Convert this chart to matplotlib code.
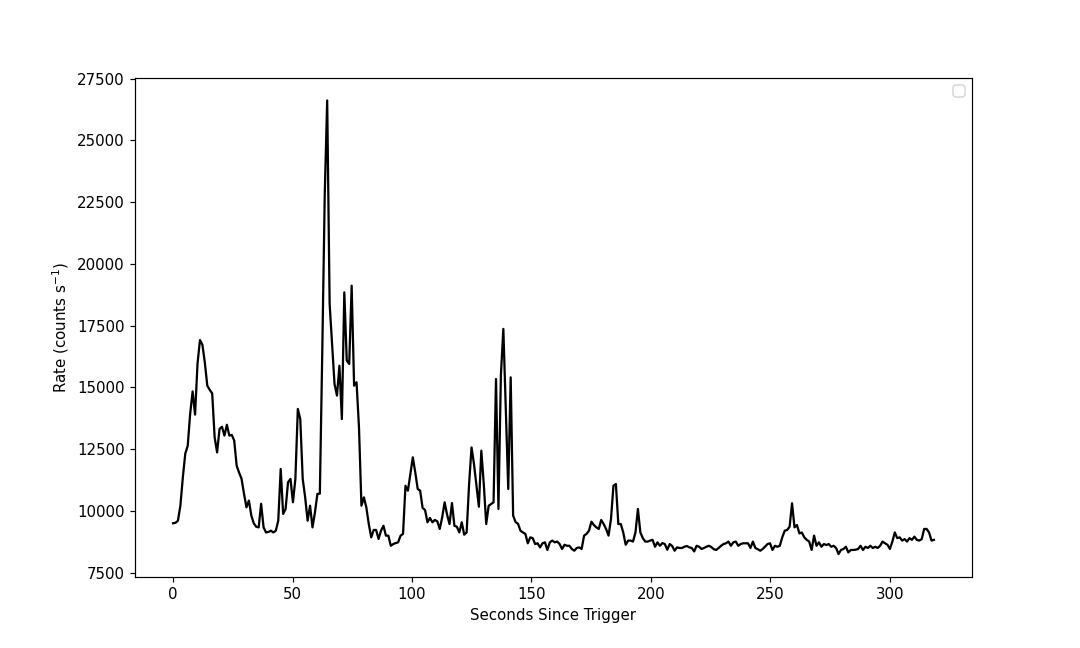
import numpy as np
import matplotlib
matplotlib.use('Agg')
import matplotlib.pyplot as plt

# Light curve, 1.024 s bins.
bin_width = 1.024
rate = [
    9500, 9520, 9606, 10213, 11360, 12320, 12640, 13940, 14840, 13900,
    15960, 16920, 16730, 16000, 15070, 14900, 14760, 12980, 12370, 13320,
    13410, 13050, 13490, 13050, 13080, 12850, 11830, 11550, 11300, 10700,
    10145, 10420, 9810, 9500, 9360, 9335, 10290, 9335, 9130, 9150,
    9200, 9130, 9200, 9606, 11700, 9877, 10080, 11160, 11295, 10350,
    11295, 14130, 13720, 11295, 10550, 9606, 10213, 9335, 9940, 10690,
    10700, 16500, 22800, 26620, 18380, 16760, 15140, 14670, 15880, 13720,
    18850, 16090, 15950, 19120, 15070, 15210, 13380, 10213, 10550, 10145,
    9470, 8930, 9230, 9230, 8865, 9200, 9400, 9000, 9000, 8590,
    8660, 8700, 8730, 9000, 9070, 11020, 10820, 11500, 12170, 11560,
    10890, 10820, 10120, 10040, 9540, 9715, 9540, 9635, 9580, 9270,
    9740, 10350, 9850, 9470, 10320, 9400, 9360, 9130, 9540, 9040,
    9130, 11090, 12570, 11900, 11020, 10170, 12440, 11090, 9470, 10210,
    10280, 10350, 15340, 10080, 15500, 17370, 14200, 10890, 15410, 9810,
    9550, 9480, 9200, 9130, 9070, 8690, 8930, 8900, 8660, 8690,
    8525, 8690, 8730, 8420, 8730, 8800, 8730, 8760, 8660, 8460,
    8630, 8590, 8590, 8460, 8390, 8500, 8525, 8460, 9000, 9070,
    9200, 9565, 9430, 9335, 9270, 9635, 9470, 9270, 9000, 9675,
    11020, 11090, 9470, 9470, 9130, 8630, 8800, 8800, 8760, 9130,
    10080, 9130, 8900, 8760, 8760, 8800, 8830, 8550, 8730, 8590,
    8700, 8660, 8430, 8660, 8580, 8390, 8525, 8500, 8500, 8550,
    8580, 8525, 8500, 8360, 8590, 8550, 8460, 8500, 8550, 8590,
    8540, 8450, 8420, 8500, 8590, 8660, 8690, 8760, 8590, 8730,
    8760, 8590, 8660, 8690, 8690, 8690, 8500, 8760, 8500, 8450,
    8390, 8460, 8560, 8660, 8690, 8420, 8590, 8550, 8590, 8930,
    9200, 9230, 9360, 10310, 9335, 9430, 9090, 9130, 8930, 8830,
    8760, 8420, 9000, 8590, 8730, 8550, 8660, 8620, 8660, 8550,
    8590, 8500, 8255, 8420, 8460, 8550, 8320, 8420, 8420, 8430,
    8460, 8590, 8420, 8550, 8500, 8590, 8500, 8550, 8500, 8590,
    8760, 8690, 8630, 8460, 8760, 9130, 8900, 8930, 8800, 8860,
    8760, 8900, 8830, 8960, 8830, 8800, 8860, 9270, 9270, 9130,
    8800, 8830,
]
time = np.arange(len(rate)) * bin_width

fig, ax = plt.subplots(figsize=(10, 6), dpi=108)
ax.plot(time, rate, color='black', linewidth=1.5)
ax.set_xlabel('Seconds Since Trigger')
ax.set_ylabel(r'Rate (counts s$^{-1}$)')
ax.legend(handles=[], loc='upper right')

fig.savefig('out.png', dpi=108)
